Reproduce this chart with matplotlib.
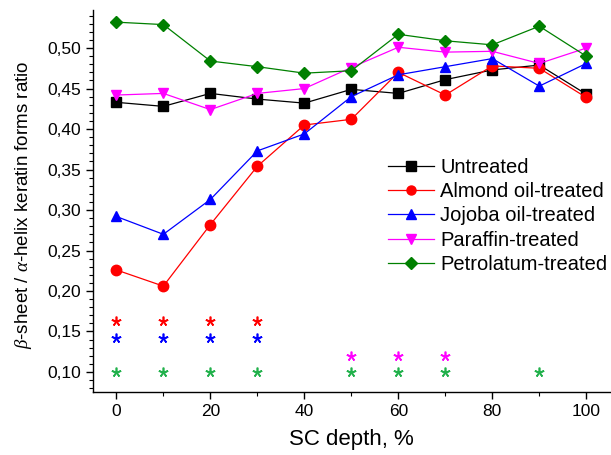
import matplotlib
matplotlib.use("Agg")
import matplotlib.pyplot as plt
from matplotlib.ticker import FuncFormatter, MultipleLocator

plt.rcParams['font.family'] = ['Liberation Sans', 'DejaVu Sans']
plt.rcParams['mathtext.fontset'] = 'custom'
plt.rcParams['mathtext.it'] = 'Liberation Serif:italic'

depth = [0, 10, 20, 30, 40, 50, 60, 70, 80, 90, 100]
untreated = [0.433, 0.428, 0.444, 0.437, 0.432, 0.449, 0.444, 0.461, 0.473, 0.479, 0.443]
almond = [0.226, 0.206, 0.282, 0.354, 0.405, 0.412, 0.470, 0.442, 0.478, 0.475, 0.439]
jojoba = [0.292, 0.270, 0.313, 0.373, 0.394, 0.440, 0.467, 0.477, 0.487, 0.453, 0.481]
paraffin = [0.442, 0.444, 0.424, 0.444, 0.450, 0.476, 0.501, 0.495, 0.496, 0.481, 0.500]
petrolatum = [0.532, 0.529, 0.484, 0.477, 0.469, 0.472, 0.517, 0.509, 0.504, 0.527, 0.490]

star_almond_x = [0, 10, 20, 30]
star_almond_y = 0.163
star_jojoba_x = [0, 10, 20, 30]
star_jojoba_y = 0.142
star_paraffin_x = [50, 60, 70]
star_paraffin_y = 0.120
star_petro_x = [0, 10, 20, 30, 50, 60, 70, 90]
star_petro_y = 0.100

fig = plt.figure(figsize=(6.11, 4.55), dpi=100)
ax = fig.add_axes([0.152, 0.138, 0.846, 0.840])

ms = 7
lw = 0.9
ax.plot(depth, untreated, '-s', color='black', lw=lw, ms=ms, label='Untreated')
ax.plot(depth, almond, '-o', color='red', lw=lw, ms=ms + 0.5, label='Almond oil-treated')
ax.plot(depth, jojoba, '-^', color='blue', lw=lw, ms=ms + 0.5, label='Jojoba oil-treated')
ax.plot(depth, paraffin, '-v', color='magenta', lw=lw, ms=ms + 0.5, label='Paraffin-treated')
ax.plot(depth, petrolatum, '-D', color='green', lw=lw, ms=ms - 0.5, label='Petrolatum-treated')

star_kw = dict(linestyle='none', marker=(5, 2, 0), ms=7, mew=1.2)
ax.plot(star_almond_x, [star_almond_y] * len(star_almond_x), color='red', **star_kw)
ax.plot(star_jojoba_x, [star_jojoba_y] * len(star_jojoba_x), color='blue', **star_kw)
ax.plot(star_paraffin_x, [star_paraffin_y] * len(star_paraffin_x), color='magenta', **star_kw)
ax.plot(star_petro_x, [star_petro_y] * len(star_petro_x), color='#22B14C', **star_kw)

ax.set_xlim(-5, 105)
ax.set_ylim(0.075, 0.547)
ax.xaxis.set_major_locator(MultipleLocator(20))
ax.xaxis.set_minor_locator(MultipleLocator(10))
ax.yaxis.set_major_locator(MultipleLocator(0.05))
ax.yaxis.set_minor_locator(MultipleLocator(0.01))
ax.yaxis.set_major_formatter(FuncFormatter(lambda v, p: f"{v:.2f}".replace('.', ',')))

for s in ['top', 'right']:
    ax.spines[s].set_visible(False)
for s in ['left', 'bottom']:
    ax.spines[s].set_linewidth(1.0)

ax.tick_params(axis='both', which='major', labelsize=12.5, length=5, width=1, direction='out')
ax.tick_params(axis='both', which='minor', length=3, width=0.8, direction='out')

ax.set_xlabel('SC depth, %', fontsize=16)
ax.set_ylabel(r'$\beta$-sheet / $\alpha$-helix keratin forms ratio', fontsize=13.5)
ax.yaxis.set_label_coords(-0.113, 0.49)
ax.xaxis.set_label_coords(0.5, -0.097)

leg = ax.legend(loc='upper left', bbox_to_anchor=(0.555, 0.635), frameon=False, fontsize=14.5,
                handlelength=2.3, handletextpad=0.3, labelspacing=0.27, borderaxespad=0)
for h in leg.legend_handles:
    h.set_markersize(6.5)

fig.savefig('out.png', dpi=100)
